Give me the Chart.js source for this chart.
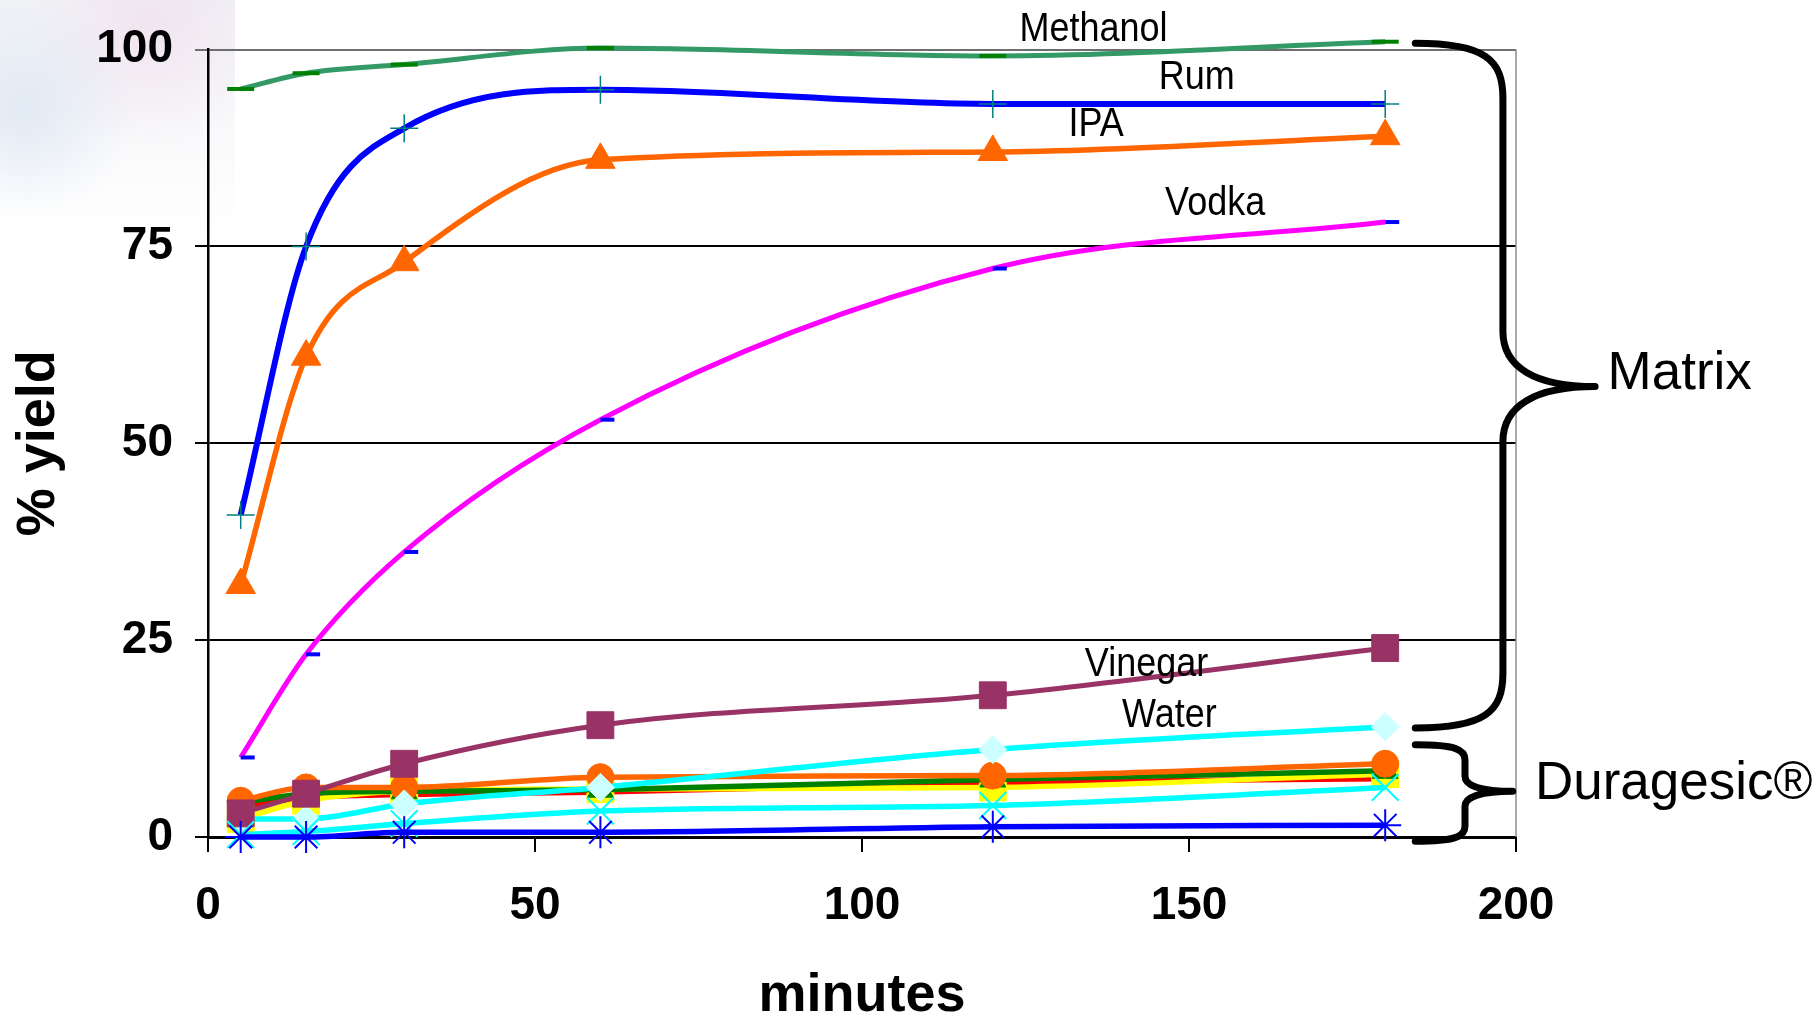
<!DOCTYPE html>
<html>
<head>
<meta charset="utf-8">
<script src="https://cdn.jsdelivr.net/npm/chart.js@4.4.1/dist/chart.umd.min.js"></script>
<style>
  html, body { margin: 0; padding: 0; background: #fff; }
  #wrap { width: 1819px; height: 1020px; }
</style>
</head>
<body>
<div id="wrap"><canvas id="yieldChart" width="1819" height="1020"></canvas></div>
<script>
const minutes = [5, 15, 30, 60, 120, 180];

// extraction into the matrices
const methanol = [95.0, 97.0, 98.1, 100.2, 99.2, 101.0];
const rum = [40.9, 75.0, 90.0, 94.9, 93.1, 93.1];
const ipa = [32, 61, 73, 86, 87, 89];
const vodka = [10.1, 23.2, 36.2, 53.0, 72.2, 78.1];
const vinegar = [3.0, 5.5, 9.3, 14.2, 18.0, 24.0];
const water = [2.3, 2.3, 4.2, 6.3, 11.1, 14.0];

// Duragesic patch runs
const durOrange = [4.6, 6.3, 6.3, 7.6, 7.8, 9.3];
const durGreen = [4.4, 5.5, 5.8, 6.0, 7.3, 8.4];
const durYellow = [2.3, 4.6, 5.8, 6.1, 6.3, 8.0];
const durRed = [3.8, 5.0, 5.4, 5.7, 6.9, 7.4];
const durCyan = [0.3, 0.7, 1.7, 3.3, 4.0, 6.3];
const durBlue = [0, 0, 0.6, 0.6, 1.3, 1.5];

const xTicks = [0, 50, 100, 150, 200];
const yTicks = [0, 25, 50, 75, 100];

const FONT = "'Liberation Sans', Arial, sans-serif";

// text next to the curves, placed in data units
const lineLabels = [
    { text: 'Methanol', x: 135.4, y: 102.5 },
    { text: 'Rum', x: 151.2, y: 96.4 },
    { text: 'IPA', x: 135.8, y: 90.5 },
    { text: 'Vodka', x: 154.0, y: 80.4 },
    { text: 'Vinegar', x: 143.5, y: 21.9 },
    { text: 'Water', x: 147.0, y: 15.4 }
];

const braces = [
    { text: 'Matrix', x0: 184.6, xv: 198.0, xt: 212.1, top: 100.8, tip: 57.2, bottom: 13.85, r: 55, tx: 214.0, ty: 58.8 },
    { text: 'Duragesic\u00AE', x0: 184.6, xv: 192.2, xt: 199.5, top: 11.7, tip: 5.8, bottom: -0.54, r: 15, tx: 202.9, ty: 6.7 }
];

function points(values) {
    return minutes.map((m, i) => ({ x: m, y: values[i] }));
}

function series(label, values, line, marker, style, radius, extra) {
    return Object.assign({
        label: label,
        data: points(values),
        borderColor: line,
        borderWidth: 5.5,
        pointStyle: style,
        pointRadius: radius,
        pointBackgroundColor: marker,
        pointBorderColor: marker,
        pointBorderWidth: 1,
        cubicInterpolationMode: 'monotone',
        fill: false,
        clip: false
    }, extra || {});
}

function drawBrace(ctx, x0, xv, xt, yTop, yTip, yBot, r) {
    ctx.beginPath();
    ctx.moveTo(x0, yTop);
    ctx.bezierCurveTo(x0 + (xv - x0) * 0.8, yTop, xv, yTop + r * 0.3, xv, yTop + r);
    ctx.lineTo(xv, yTip - r);
    ctx.bezierCurveTo(xv, yTip - r * 0.35, xv + (xt - xv) * 0.35, yTip, xt, yTip);
    ctx.bezierCurveTo(xv + (xt - xv) * 0.35, yTip, xv, yTip + r * 0.35, xv, yTip + r);
    ctx.lineTo(xv, yBot - r);
    ctx.bezierCurveTo(xv, yBot - r * 0.3, x0 + (xv - x0) * 0.8, yBot, x0, yBot);
    ctx.stroke();
}

const decorPlugin = {
    id: 'decor',
    beforeDraw(chart) {
        const ctx = chart.ctx;
        ctx.save();
        ctx.fillStyle = '#fff';
        ctx.fillRect(0, 0, chart.width, chart.height);
        // washed-out photo in the top left corner
        let g = ctx.createLinearGradient(0, 0, 0, 230);
        g.addColorStop(0, 'rgba(228,230,238,0.55)');
        g.addColorStop(1, 'rgba(228,230,238,0)');
        ctx.fillStyle = g;
        ctx.fillRect(0, 0, 235, 230);
        g = ctx.createRadialGradient(150, 30, 5, 150, 30, 120);
        g.addColorStop(0, 'rgba(240,215,232,0.5)');
        g.addColorStop(1, 'rgba(240,215,232,0)');
        ctx.fillStyle = g;
        ctx.fillRect(0, 0, 235, 230);
        g = ctx.createRadialGradient(25, 110, 5, 25, 110, 110);
        g.addColorStop(0, 'rgba(205,220,238,0.5)');
        g.addColorStop(1, 'rgba(205,220,238,0)');
        ctx.fillStyle = g;
        ctx.fillRect(0, 0, 235, 230);
        ctx.restore();
    },
    afterDraw(chart) {
        const ctx = chart.ctx;
        const sx = chart.scales.x, sy = chart.scales.y;
        const area = chart.chartArea;
        ctx.save();

        // right edge of the plot area
        ctx.strokeStyle = '#8c8c8c';
        ctx.lineWidth = 1.5;
        ctx.beginPath();
        ctx.moveTo(area.right, area.top);
        ctx.lineTo(area.right, area.bottom);
        ctx.stroke();

        ctx.fillStyle = '#000';
        ctx.textAlign = 'center';
        ctx.textBaseline = 'middle';
        ctx.font = '36px ' + FONT;
        lineLabels.forEach(l => {
            ctx.save();
            ctx.translate(sx.getPixelForValue(l.x), sy.getPixelForValue(l.y));
            ctx.scale(1, 1.12);
            ctx.fillText(l.text, 0, 0);
            ctx.restore();
        });

        ctx.strokeStyle = '#000';
        ctx.lineWidth = 7;
        ctx.lineCap = 'round';
        ctx.lineJoin = 'round';
        ctx.textAlign = 'left';
        ctx.font = '53px ' + FONT;
        braces.forEach(b => {
            drawBrace(ctx,
                sx.getPixelForValue(b.x0), sx.getPixelForValue(b.xv), sx.getPixelForValue(b.xt),
                sy.getPixelForValue(b.top), sy.getPixelForValue(b.tip), sy.getPixelForValue(b.bottom), b.r);
            ctx.fillText(b.text, sx.getPixelForValue(b.tx), sy.getPixelForValue(b.ty));
        });
        ctx.restore();
    }
};

Chart.defaults.font.family = FONT;
Chart.defaults.color = '#000';

const ctx = document.getElementById('yieldChart').getContext('2d');
const yieldChart = new Chart(ctx, {
    type: 'line',
    data: {
        datasets: [
            series('Duragesic 6', durBlue, '#0000ff', '#0000ff', 'star', 16, { pointBorderWidth: 2 }),
            series('Duragesic 5', durCyan, '#00ffff', '#00ffff', 'crossRot', 19, { pointBorderWidth: 2 }),
            series('Vinegar', vinegar, '#993366', '#993366', 'rect', 19, { borderWidth: 5 }),
            series('Water', water, '#00ffff', '#ccffff', 'rectRot', 14),
            series('Duragesic 1', durOrange, '#ff6600', '#ff6600', 'circle', 13.5),
            series('Duragesic 2', durGreen, '#008000', '#008000', 'triangle', 15),
            series('Duragesic 3', durYellow, '#ffff00', '#ffff00', 'rect', 19),
            series('Duragesic 4', durRed, '#ff0000', '#ff0000', 'circle', 3),
            series('Vodka', vodka, '#ff00ff', '#0000ff', 'dash', 14, { borderWidth: 5, pointBorderWidth: 4 }),
            series('IPA', ipa, '#ff6600', '#ff6600', 'triangle', 17),
            series('Rum', rum, '#0000ff', '#008080', 'cross', 14, { borderWidth: 6, pointBorderWidth: 1.5 }),
            series('Methanol', methanol, '#339966', '#008000', 'line', 13.5, { borderWidth: 5, pointBorderWidth: 4 })
        ]
    },
    options: {
        responsive: false,
        animation: false,
        devicePixelRatio: 1,
        events: [],
        layout: { padding: { top: 45, right: 303, left: 0, bottom: 0 } },
        plugins: {
            legend: { display: false },
            tooltip: { enabled: false }
        },
        scales: {
            x: {
                type: 'linear',
                min: 0,
                max: 200,
                afterBuildTicks: s => { s.ticks = xTicks.map(v => ({ value: v })); },
                afterFit: s => { s.height = 183; },
                grid: { drawOnChartArea: false, color: '#000', lineWidth: 2, tickLength: 15 },
                border: { color: '#000', width: 3 },
                ticks: { font: { size: 46, weight: 'bold' }, padding: 27, color: '#000', maxRotation: 0 },
                title: {
                    display: true, text: 'minutes', color: '#000',
                    font: { size: 54, weight: 'bold', lineHeight: 0.8 },
                    padding: { top: 0, bottom: 2 }
                }
            },
            y: {
                type: 'linear',
                min: 0,
                max: 100,
                afterBuildTicks: s => { s.ticks = yTicks.map(v => ({ value: v })); },
                afterFit: s => { s.width = 208; },
                grid: {
                    color: c => (c.tick && c.tick.value === 100 ? '#6e6e6e' : '#000'),
                    lineWidth: 2,
                    tickLength: 13
                },
                border: { color: '#000', width: 2.5 },
                ticks: { font: { size: 46, weight: 'bold' }, padding: 22, color: '#000' },
                title: {
                    display: true, text: '% yield', color: '#000',
                    font: { size: 54, weight: 'bold', lineHeight: 1.2 },
                    padding: { top: 7, bottom: 0 }
                }
            }
        }
    },
    plugins: [decorPlugin]
});
</script>
</body>
</html>
